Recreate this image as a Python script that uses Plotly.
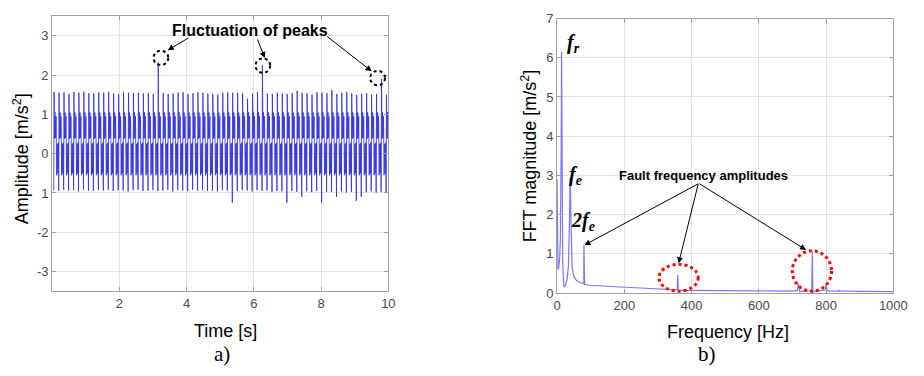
import plotly.graph_objects as go

# ---------------- data ----------------
# a) time signal: per-cycle peak maxima and minima
cycle_start_s = 0.05
cycle_period_s = 0.1475
peak_max = [1.57, 1.55, 1.56, 1.52, 1.57, 1.55, 1.58, 1.54, 1.53, 1.56,
            1.55, 1.57, 1.53, 1.52, 1.56, 1.55, 1.54, 1.55, 1.53, 1.54,
            1.52, 2.32, 1.54, 1.52, 1.53, 1.55, 1.56, 1.52, 1.54, 1.56,
            1.55, 1.53, 1.52, 1.50, 1.55, 1.56, 1.55, 1.55, 1.54, 1.40,
            1.53, 1.57, 2.25, 1.53, 1.52, 1.55, 1.53, 1.52, 1.54, 1.60,
            1.55, 1.53, 1.50, 1.56, 1.55, 1.54, 1.62, 1.52, 1.55, 1.57,
            1.53, 1.50, 1.52, 1.54, 1.50, 1.52, 1.90, 1.50]
trough_min = [-0.93, -0.95, -0.92, -0.94, -0.93, -0.96, -0.92, -0.94, -0.95, -0.93,
              -0.94, -0.92, -0.95, -0.93, -0.94, -0.96, -0.93, -0.92, -0.95, -0.94,
              -0.93, -0.95, -0.94, -0.92, -0.96, -0.93, -0.94, -0.95, -0.92, -0.94,
              -0.93, -0.95, -0.94, -0.96, -0.93, -0.94, -1.25, -0.95, -0.93, -0.94,
              -0.96, -0.93, -0.95, -0.94, -0.97, -0.95, -0.96, -1.25, -0.95, -0.97,
              -1.10, -0.96, -0.98, -0.95, -1.25, -0.97, -0.98, -1.10, -0.96, -0.99,
              -0.97, -1.20, -1.10, -0.98, -0.96, -0.99, -0.97, -0.98]
# within-cycle waveform shape: (fraction of cycle, level); None = use peak / trough
cycle_shape_frac = [0.0, 0.07, 0.18, 0.28, 0.38, 0.48, 0.60, 0.72, 0.82, 0.92]
cycle_shape_level = [None, None, 0.38, 1.05, 0.40, 0.95, -0.55, 0.25, -0.50, 0.28]

# b) FFT magnitude
freq_hz = [0, 0.5, 1.5, 3, 5, 8, 10, 11.5, 12.5, 13.5,
           14.5, 15.5, 17, 19, 21, 25, 30, 34, 36, 37.5,
           39, 40, 41, 42.5, 45, 50, 58, 68, 76, 79.5,
           80, 80.5, 82, 100, 150, 200, 250, 300, 340, 355,
           357.5, 359, 360.5, 363, 370, 400, 500, 600, 700, 715,
           717.5, 720, 722, 740, 755, 757.5, 759, 760.5, 762, 770,
           790, 798, 800, 802, 810, 838, 839, 840, 850, 900,
           1000]
fft_mag = [2.9, 1.5, 0.75, 0.6, 0.65, 0.9, 1.4, 2.2, 3.8, 6.15,
           4.2, 2.0, 0.8, 0.35, 0.15, 0.2, 0.35, 0.7, 1.2, 2.0,
           2.95, 2.9, 2.0, 1.1, 0.65, 0.42, 0.32, 0.27, 0.24, 0.24,
           1.23, 0.24, 0.22, 0.2, 0.17, 0.15, 0.13, 0.11, 0.09, 0.08,
           0.1, 0.46, 0.1, 0.07, 0.07, 0.07, 0.06, 0.055, 0.05, 0.07,
           0.25, 0.07, 0.04, 0.05, 0.06, 0.1, 1.06, 0.1, 0.03, 0.05,
           0.06, 0.08, 0.22, 0.08, 0.05, 0.05, 0.08, 0.05, 0.05, 0.045,
           0.04]

left_yticks = [-3, -2, -1, 0, 1, 2, 3]
left_yticktext = ["-3", "-2", "1", "0", "1", "2", "3"]
left_xticks = [2, 4, 6, 8, 10]
right_xticks = [0, 200, 400, 600, 800, 1000]
right_yticks = [0, 1, 2, 3, 4, 5, 6, 7]

# ---------------- build time signal from the read values ----------------
t_vals, a_vals = [], []
for i, (pk, tr) in enumerate(zip(peak_max, trough_min)):
    t0 = cycle_start_s + i * cycle_period_s
    for j, (frac, lev) in enumerate(zip(cycle_shape_frac, cycle_shape_level)):
        if j == 0:
            v = tr
        elif lev is None:
            v = pk
        else:
            v = lev
        t_vals.append(t0 + frac * cycle_period_s)
        a_vals.append(v)
t_vals.append(cycle_start_s + len(peak_max) * cycle_period_s)
a_vals.append(trough_min[-1])

W, H = 924, 376


def px(x):
    return x / W


def py(y):
    return 1 - y / H


fig = go.Figure()
fig.add_trace(go.Scatter(x=t_vals, y=a_vals, mode="lines",
                         line=dict(color="rgba(45,45,225,0.8)", width=1),
                         xaxis="x", yaxis="y", showlegend=False, hoverinfo="skip"))
fig.add_trace(go.Scatter(x=freq_hz, y=fft_mag, mode="lines",
                         line=dict(color="rgb(120,120,255)", width=1.2),
                         xaxis="x2", yaxis="y2", showlegend=False, hoverinfo="skip"))

axis_common = dict(showgrid=True, gridcolor="#e3e3e3", gridwidth=1,
                   showline=True, linecolor="#a0a0a0", linewidth=1, mirror="ticks",
                   ticks="inside", ticklen=4, tickcolor="#a0a0a0",
                   tickfont=dict(family="Liberation Sans, Arial", size=13, color="#4a4a4a"),
                   zeroline=False)

fig.update_layout(
    width=W, height=H, margin=dict(l=0, r=0, t=0, b=0),
    paper_bgcolor="white", plot_bgcolor="white",
    xaxis=dict(domain=[px(49), px(392)], range=[0, 10], tickvals=left_xticks,
               anchor="y", **axis_common),
    yaxis=dict(domain=[py(296), py(9.5)], range=[-3.5, 3.5], tickvals=left_yticks,
               ticktext=left_yticktext, anchor="x", **axis_common),
    xaxis2=dict(domain=[px(564), px(907)], range=[0, 1000], tickvals=right_xticks,
                anchor="y2", **axis_common),
    yaxis2=dict(domain=[py(298), py(12)], range=[0, 7], tickvals=right_yticks,
                anchor="x2", **axis_common),
)

ann = []
title_font = dict(family="Liberation Sans, Arial", size=18, color="black")
ann.append(dict(x=px(226), y=py(337), text="Time [s]", font=title_font))
ann.append(dict(x=px(738), y=py(338), text="Frequency [Hz]", font=title_font))
ann.append(dict(x=px(18), y=py(158), text="Amplitude [m/s<sup>2</sup>]", font=title_font,
                textangle=-90))
ann.append(dict(x=px(536), y=py(155), text="FFT magnitude [m/s<sup>2</sup>]", font=title_font,
                textangle=-90))
serif = dict(family="Liberation Serif, Times New Roman", size=21, color="black")
ann.append(dict(x=px(222), y=py(361), text="a)", font=serif))
ann.append(dict(x=px(717), y=py(361), text="b)", font=serif))

bold = dict(family="Liberation Sans, Arial", size=16, color="black")
ann.append(dict(x=px(251), y=py(24), text="<b>Fluctuation of peaks</b>", font=bold))
ann.append(dict(x=px(713), y=py(176), text="<b>Fault frequency amplitudes</b>",
                font=dict(family="Liberation Sans, Arial", size=13, color="black")))

fs = dict(family="Liberation Serif, Times New Roman", size=20, color="black")
ann.append(dict(x=px(581), y=py(38), text="<b><i>f</i></b><sub><b><i>r</i></b></sub>", font=fs))
ann.append(dict(x=px(583), y=py(175), text="<b><i>f</i></b><sub><b><i>e</i></b></sub>", font=fs))
ann.append(dict(x=px(590), y=py(223), text="<b><i>2f</i></b><sub><b><i>e</i></b></sub>", font=fs))

for a in ann:
    a.update(xref="paper", yref="paper", showarrow=False, xanchor="center", yanchor="middle")


def arrow(tail, head):
    return dict(xref="paper", yref="paper", x=px(head[0]), y=py(head[1]),
                ax=tail[0] - head[0], ay=tail[1] - head[1], text="",
                showarrow=True, arrowhead=2, arrowsize=1.2, arrowwidth=1, arrowcolor="black")


ann.append(arrow((189, 32), (167, 45)))
ann.append(arrow((258, 33), (266, 53)))
ann.append(arrow((329, 31), (375, 67)))
ann.append(arrow((707, 186), (592, 248)))
ann.append(arrow((708, 186), (688, 267)))
ann.append(arrow((710, 186), (818, 253)))
fig.update_layout(annotations=ann)

shapes = []


def circ(cx, cy, rx, ry, color, width):
    return dict(type="circle", xref="paper", yref="paper",
                x0=px(cx - rx), x1=px(cx + rx), y0=py(cy + ry), y1=py(cy - ry),
                line=dict(color=color, width=width, dash="dot"))


shapes.append(circ(160, 53, 7.5, 7.5, "black", 2))
shapes.append(circ(264, 61, 7.5, 7.5, "black", 2))
shapes.append(circ(381, 74, 7.5, 7.5, "black", 2))
shapes.append(circ(688, 282, 20, 14, "red", 3))
shapes.append(circ(824, 275, 20, 21, "red", 3))
fig.update_layout(shapes=shapes)

fig.write_html("out.html")
